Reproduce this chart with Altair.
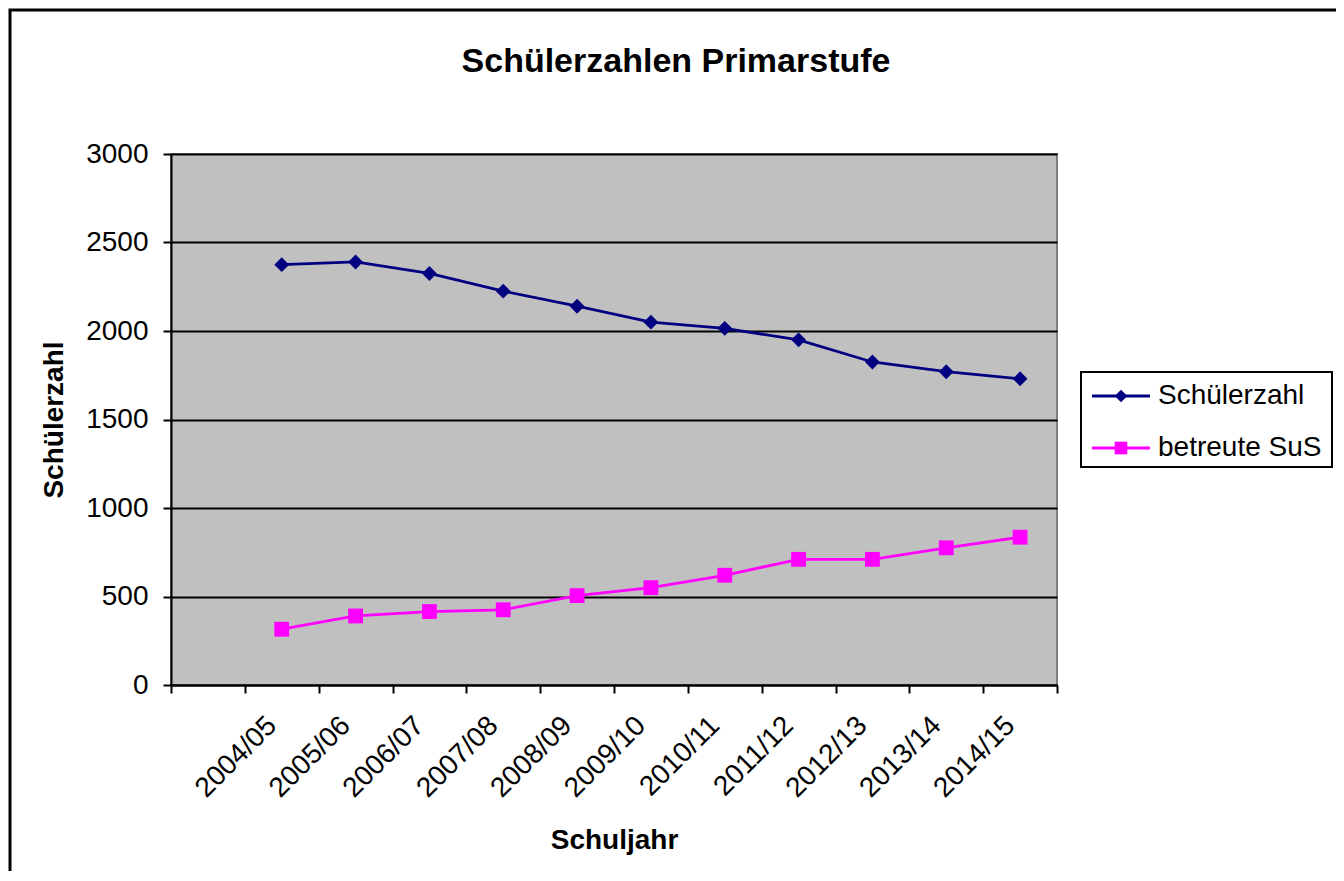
import altair as alt
import pandas as pd

# ---------------- data ----------------
chart_title = "Schülerzahlen Primarstufe"
x_title = "Schuljahr"
y_title = "Schülerzahl"
years = ["2004/05", "2005/06", "2006/07", "2007/08", "2008/09", "2009/10",
         "2010/11", "2011/12", "2012/13", "2013/14", "2014/15"]
series_names = ["Schülerzahl", "betreute SuS"]
schueler = [2375, 2390, 2325, 2225, 2140, 2050, 2015, 1950, 1825, 1770, 1730]
betreut = [315, 390, 415, 425, 505, 550, 620, 710, 710, 775, 835]
y_ticks = [0, 500, 1000, 1500, 2000, 2500, 3000]

# ---------------- styles ----------------
colors = ["#000080", "#FF00FF"]
shapes = ["diamond", "square"]
FONT = "Liberation Sans"
W, H = 886, 531

x_domain = [" "] + years  # first (empty) category as in the original

df = pd.DataFrame({
    "Schuljahr": years + years,
    "Serie": [series_names[0]] * len(years) + [series_names[1]] * len(years),
    "Wert": schueler + betreut,
})

x_enc = alt.X(
    "Schuljahr:N",
    sort=x_domain,
    scale=alt.Scale(type="band", domain=x_domain, paddingInner=0, paddingOuter=0),
    axis=alt.Axis(
        title=x_title, labelAngle=-45, labelAlign="right", labelBaseline="middle",
        tickBand="extent", grid=False, tickSize=8, tickColor="black", tickWidth=2,
        domainColor="black", domainWidth=2, labelFont=FONT, labelFontSize=28,
        labelColor="black", labelPadding=28, labelOffset=-10, labelOverlap=False,
        titleFont=FONT, titleFontSize=28, titleFontWeight="bold", titleColor="black",
        titlePadding=24,
    ),
)
y_enc = alt.Y(
    "Wert:Q",
    scale=alt.Scale(domain=[0, 3000], nice=False),
    axis=alt.Axis(
        title=y_title, values=y_ticks, format="d", grid=True, gridColor="black",
        gridWidth=2, gridOpacity=1, tickSize=8, tickColor="black", tickWidth=2,
        domainColor="black", domainWidth=2, labelFont=FONT, labelFontSize=28,
        labelColor="black", labelPadding=15, titleFont=FONT, titleFontSize=28,
        titleFontWeight="bold", titleColor="black", titlePadding=17,
    ),
)
color_enc = alt.Color("Serie:N", scale=alt.Scale(domain=series_names, range=colors), legend=None)
shape_enc = alt.Shape("Serie:N", scale=alt.Scale(domain=series_names, range=shapes), legend=None)

base = alt.Chart(df)
lines = base.mark_line(strokeWidth=2.8).encode(x=x_enc, y=y_enc, color=color_enc)
points = base.mark_point(filled=True, size=220, opacity=1).encode(
    x=x_enc, y=y_enc, color=color_enc, shape=shape_enc
)

one = alt.Data(values=[{}])

# chart title
title_mark = alt.Chart(one).mark_text(
    text=chart_title, font=FONT, fontSize=34, fontWeight="bold", color="black",
    align="center", baseline="alphabetic",
).encode(x=alt.value(505), y=alt.value(-82))

# outer frame
frame = alt.Chart(one).mark_rect(filled=False, stroke="black", strokeWidth=3).encode(
    x=alt.value(-161), x2=alt.value(1169), y=alt.value(-144), y2=alt.value(760)
)

# legend (manual, Excel style)
leg_box = alt.Chart(one).mark_rect(fill="white", stroke="black", strokeWidth=2).encode(
    x=alt.value(910), x2=alt.value(1161), y=alt.value(218), y2=alt.value(313)
)
legend_layers = [leg_box]
for i, name in enumerate(series_names):
    yy = 242 + 52 * i
    legend_layers.append(
        alt.Chart(one).mark_rule(color=colors[i], strokeWidth=2.8).encode(
            x=alt.value(921), x2=alt.value(979), y=alt.value(yy)
        )
    )
    legend_layers.append(
        alt.Chart(one).mark_point(filled=True, opacity=1, shape=shapes[i], size=160,
                                  color=colors[i]).encode(x=alt.value(950), y=alt.value(yy))
    )
    legend_layers.append(
        alt.Chart(one).mark_text(text=name, font=FONT, fontSize=28, color="black",
                                 align="left", baseline="middle").encode(
            x=alt.value(987), y=alt.value(yy)
        )
    )

chart = alt.layer(lines, points, title_mark, frame, *legend_layers).properties(
    width=W, height=H,
    padding={"left": 163, "top": 146, "right": 279, "bottom": 186},
    autosize=alt.AutoSizeParams(type="none"),
    background="white",
).configure_view(
    fill="#C0C0C0", stroke="#808080", strokeWidth=2
)

chart.save("out.html", embed_options={"renderer": "svg", "actions": False})
